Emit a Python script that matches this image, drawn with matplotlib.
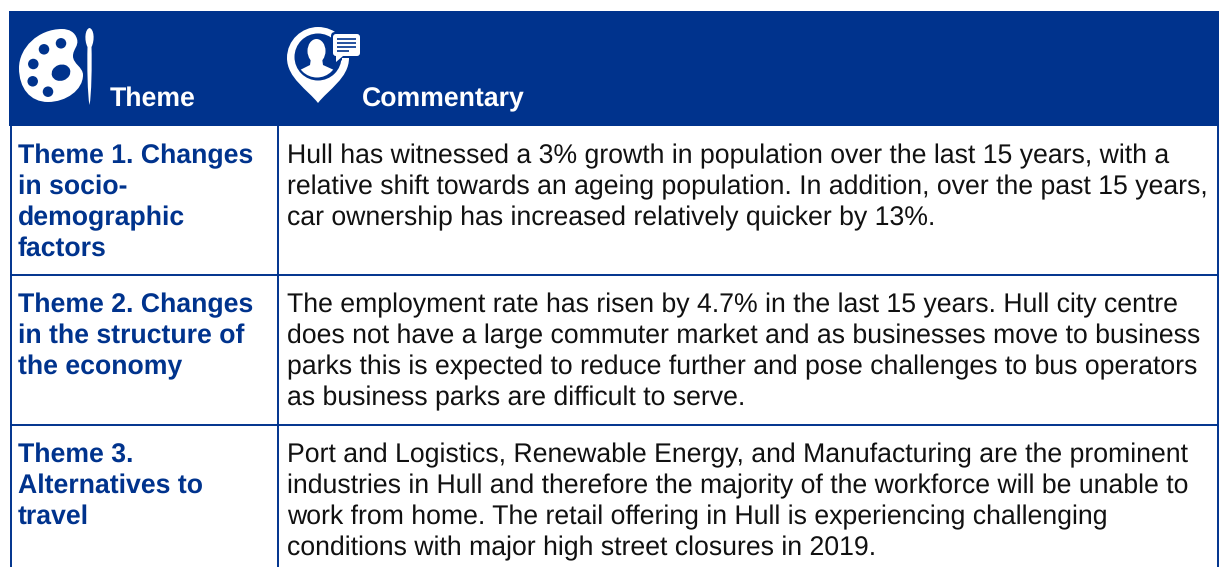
import matplotlib
matplotlib.use("Agg")
import matplotlib.pyplot as plt
from matplotlib.patches import Rectangle, Ellipse, Polygon, FancyBboxPatch, PathPatch, Circle
from matplotlib.path import Path

plt.rcParams["text.hinting"] = "none"
plt.rcParams["text.hinting_factor"] = 8

header_labels = ["Theme", "Commentary"]
themes = [
    ["Theme 1. Changes", "in socio-", "demographic", "factors"],
    ["Theme 2. Changes", "in the structure of", "the economy"],
    ["Theme 3.", "Alternatives to", "travel"],
]
commentary = [
    ["Hull has witnessed a 3% growth in population over the last 15 years, with a",
     "relative shift towards an ageing population. In addition, over the past 15 years,",
     "car ownership has increased relatively quicker by 13%."],
    ["The employment rate has risen by 4.7% in the last 15 years. Hull city centre",
     "does not have a large commuter market and as businesses move to business",
     "parks this is expected to reduce further and pose challenges to bus operators",
     "as business parks are difficult to serve."],
    ["Port and Logistics, Renewable Energy, and Manufacturing are the prominent",
     "industries in Hull and therefore the majority of the workforce will be unable to",
     "work from home. The retail offering in Hull is experiencing challenging",
     "conditions with major high street closures in 2019."],
]

NAVY = "#00338D"
TXT = "#111111"
FONT = "Liberation Sans"
FS = 19.2
row_tops = [126, 275, 425]
line_h = 31
col_x = [10.5, 278, 1218]

fig = plt.figure(figsize=(12.19, 5.67), dpi=100)
ax = fig.add_axes([0, 0, 1, 1])
ax.set_xlim(0, 1219)
ax.set_ylim(567, 0)
ax.axis("off")

ax.add_patch(Rectangle((9, 11), 1210, 115, fc=NAVY, ec="none"))
for x in col_x:
    ax.plot([x, x], [126, 567], color=NAVY, lw=1.4, solid_capstyle="butt")
for y in row_tops[1:]:
    ax.plot([10, 1218], [y, y], color=NAVY, lw=1.4, solid_capstyle="butt")

W = "white"
def curve(points):
    return Path(points, [Path.MOVETO] + [Path.CURVE4] * (len(points) - 1))

# palette
blob = curve([(62, 29), (38, 29), (19, 48), (19, 68),
              (19, 88), (30, 102), (48, 102),
              (66, 102), (83, 90), (83, 75),
              (83, 67), (73, 64), (73, 56),
              (73, 49), (79, 46), (77, 39),
              (75, 32), (69, 29), (62, 29)])
ax.add_patch(PathPatch(blob, fc=W, ec="none"))
for cx, cy, w, h, ang in [(61, 43.3, 10.5, 10.5, 0), (44, 49.3, 10.5, 10.5, 0),
                          (33.3, 64, 10.5, 10.5, 0), (61, 72.7, 19, 16, -20),
                          (32.7, 81.3, 10.5, 10.5, 0), (48, 91.7, 10.5, 10.5, 0)]:
    ax.add_patch(Ellipse((cx, cy), w, h, angle=ang, fc=NAVY, ec="none"))
brush = curve([(89.5, 28), (85, 29), (84, 40), (87.5, 47),
               (87, 65), (87.5, 95), (89.5, 105),
               (91.5, 95), (92, 65), (91.5, 47),
               (95, 40), (94, 29), (89.5, 28)])
ax.add_patch(PathPatch(brush, fc=W, ec="none"))

# location pin
pin = curve([(318, 103), (308, 90), (287, 78), (287, 58),
             (287, 40), (302, 27), (318, 27),
             (335, 27), (349, 40), (349, 58),
             (349, 78), (328, 90), (318, 103)])
ax.add_patch(PathPatch(pin, fc=W, ec="none"))
ax.add_patch(Circle((318, 57), 23.5, fc=NAVY, ec="none"))
ax.add_patch(Ellipse((316.5, 51), 18, 24, fc=W, ec="none"))
body = Polygon([(311, 58), (322, 58), (323, 65), (334, 70), (334, 80), (300, 80),
                (300, 70), (310, 65)], fc=W, ec="none")
ax.add_patch(body)
body.set_clip_path(Circle((317, 57), 20.5, transform=ax.transData))
# speech bubble with navy halo that breaks the ring
ax.add_patch(FancyBboxPatch((331, 32), 31, 26, boxstyle="round,pad=0,rounding_size=4", fc=NAVY, ec="none"))
ax.add_patch(Polygon([(332, 55), (342, 55), (342, 60), (334, 66)], fc=NAVY, ec="none"))
ax.add_patch(FancyBboxPatch((333, 34), 27, 22, boxstyle="round,pad=0,rounding_size=3", fc=W, ec="none"))
ax.add_patch(Polygon([(336, 54), (343, 56), (336, 62)], fc=W, ec="none"))
for y, x1 in zip([39, 42.7, 46.7, 50.7], [356, 356, 356, 349]):
    ax.plot([337, x1], [y, y], color=NAVY, lw=1.2, solid_capstyle="butt")

kw = dict(family=FONT, fontsize=FS, va="baseline", ha="left")
ax.text(110, 106, header_labels[0], color=W, weight="bold", **kw)
ax.text(362, 106, header_labels[1], color=W, weight="bold", **kw)
for top, th, cm in zip(row_tops, themes, commentary):
    for i, s in enumerate(th):
        ax.text(18, top + 37 + i * line_h, s, color=NAVY, weight="bold", **kw)
    for i, s in enumerate(cm):
        ax.text(287, top + 37 + i * line_h, s, color=TXT, **kw)

fig.savefig("out.png", dpi=100)
